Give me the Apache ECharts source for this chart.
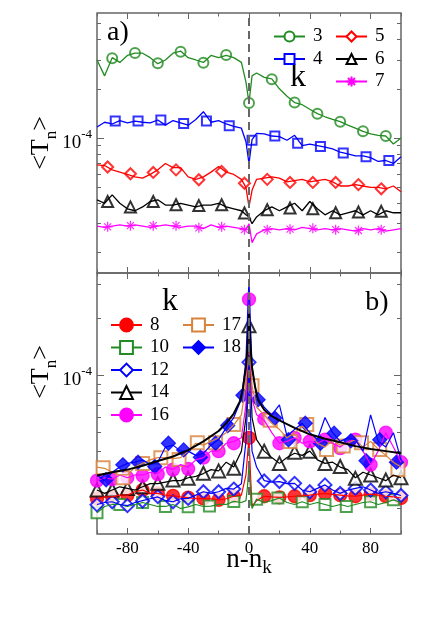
<!DOCTYPE html>
<html>
<head>
<meta charset="utf-8">
<script src="https://cdn.jsdelivr.net/npm/echarts@6/dist/echarts.min.js"></script>
<style>
html, body { margin: 0; padding: 0; background: #fff; }
#chart { width: 436px; height: 622px; }
</style>
</head>
<body>
<div id="chart"></div>
<script>
// values are in units of 1e-4
const UNIT = 1e-4;

// x positions of the line data
const xA = [-100,-95,-90,-85,-80,-75,-70,-65,-60,-55,-50,-45,-40,-35,-30,-25,-20,-15,-10,-5,
  -2,0,2,
  5,10,15,20,25,30,35,40,45,50,55,60,65,70,75,80,85,90,95,100];
const xB = [-100,-95,-90,-85,-80,-75,-70,-65,-60,-55,-50,-45,-40,-35,-30,-25,-20,-15,-10,-5,
  -2,-1,0,1,2,
  5,10,15,20,25,30,35,40,45,50,55,60,65,70,75,80,85,90,95,100];

// panel a), lines
const k3 = [3.0,2.4,3.1,2.9,3.2,3.3,3.3,3.1,2.85,3.0,3.3,3.4,3.1,3.0,2.9,3.2,3.1,3.2,3.1,2.9,
  2.2,1.64,2.4,
  2.5,2.35,2.3,2.0,1.8,1.65,1.6,1.5,1.41,1.35,1.3,1.26,1.2,1.15,1.10,1.06,1.04,1.03,0.92,1.0];
const k4 = [1.17,1.25,1.22,1.28,1.24,1.27,1.25,1.24,1.29,1.2,1.28,1.24,1.2,1.3,1.45,1.25,1.28,1.22,1.18,1.15,
  0.95,0.70,0.98,
  1.07,1.06,1.03,1.02,0.97,1.04,0.90,0.92,0.90,0.88,0.86,0.82,0.80,0.78,0.78,0.76,0.72,0.73,0.70,0.77];
const k5 = [0.687,0.68,0.64,0.62,0.60,0.58,0.57,0.60,0.64,0.70,0.66,0.66,0.58,0.56,0.58,0.62,0.67,0.62,0.60,0.56,
  0.50,0.38,0.48,
  0.56,0.57,0.58,0.57,0.54,0.55,0.56,0.54,0.55,0.56,0.54,0.51,0.51,0.52,0.51,0.50,0.50,0.49,0.51,0.47];
const k6 = [0.42,0.40,0.45,0.40,0.37,0.36,0.38,0.41,0.42,0.39,0.39,0.40,0.39,0.38,0.39,0.39,0.40,0.38,0.37,0.36,
  0.34,0.33,0.30,
  0.33,0.36,0.38,0.36,0.38,0.40,0.36,0.41,0.37,0.34,0.36,0.34,0.35,0.36,0.34,0.36,0.34,0.36,0.35,0.35];
const k7 = [0.29,0.285,0.29,0.295,0.29,0.295,0.29,0.285,0.29,0.295,0.29,0.285,0.29,0.29,0.28,0.295,0.285,0.29,0.285,0.28,
  0.275,0.30,0.23,
  0.26,0.275,0.28,0.275,0.28,0.275,0.285,0.28,0.275,0.28,0.275,0.28,0.275,0.27,0.28,0.275,0.28,0.27,0.275,0.28];

// panel a), symbols
const m3x = [-90,-75,-60,-45,-30,-15,0,15,30,45,60,75,90];
const m3y = [3.07,3.31,2.87,3.37,2.89,3.22,1.64,2.29,1.65,1.41,1.26,1.10,1.03];
const m4x = [-88,-73,-58,-43,-28,-13,2,17,32,47,62,77,92];
const m4y = [1.27,1.27,1.29,1.23,1.27,1.19,0.97,1.03,0.93,0.89,0.81,0.77,0.73];
const m567x = [-93,-78,-63,-48,-33,-18,-3,12,27,42,57,72,87];
const m5y = [0.666,0.606,0.617,0.64,0.557,0.626,0.53,0.56,0.536,0.536,0.536,0.52,0.49];
const m6y = [0.41,0.38,0.41,0.392,0.387,0.392,0.349,0.365,0.374,0.37,0.35,0.354,0.357];
const m7y = [0.287,0.292,0.292,0.292,0.283,0.287,0.276,0.276,0.278,0.281,0.276,0.273,0.276];

// panel b), lines
const k8 = [0.225,0.23,0.23,0.235,0.235,0.245,0.25,0.24,0.24,0.235,0.233,0.23,0.228,0.225,0.226,0.225,0.222,0.225,0.232,0.235,
  0.30,0.38,0.47,0.30,0.205,
  0.22,0.232,0.23,0.229,0.23,0.232,0.233,0.235,0.238,0.24,0.237,0.235,0.233,0.232,0.235,0.238,0.235,0.232,0.23,0.227];
const k10 = [0.19,0.205,0.21,0.21,0.205,0.21,0.215,0.21,0.205,0.205,0.21,0.20,0.204,0.21,0.205,0.206,0.21,0.21,0.218,0.215,
  0.22,0.26,0.34,0.25,0.20,
  0.224,0.215,0.22,0.227,0.215,0.21,0.217,0.21,0.215,0.21,0.205,0.21,0.205,0.21,0.215,0.217,0.21,0.215,0.222,0.215];
const k12 = [0.21,0.215,0.217,0.21,0.207,0.215,0.22,0.225,0.23,0.22,0.217,0.225,0.226,0.235,0.245,0.24,0.245,0.255,0.253,0.27,
  0.45,0.7,1.17,0.6,0.4,
  0.33,0.28,0.275,0.277,0.27,0.271,0.25,0.245,0.255,0.266,0.25,0.24,0.25,0.255,0.26,0.25,0.24,0.245,0.24,0.234];
const k14 = [0.25,0.24,0.25,0.26,0.255,0.25,0.26,0.27,0.27,0.275,0.28,0.28,0.29,0.295,0.305,0.32,0.315,0.35,0.33,0.40,
  0.6,1.0,1.82,1.0,0.6,
  0.46,0.40,0.37,0.345,0.37,0.39,0.38,0.40,0.36,0.345,0.35,0.33,0.32,0.29,0.31,0.30,0.29,0.28,0.30,0.29];
const k16 = [0.28,0.29,0.285,0.30,0.29,0.30,0.30,0.31,0.305,0.33,0.32,0.34,0.33,0.36,0.37,0.40,0.40,0.44,0.45,0.47,
  0.7,1.2,2.5,1.2,0.75,
  0.62,0.58,0.50,0.44,0.45,0.47,0.44,0.45,0.44,0.46,0.44,0.42,0.45,0.46,0.40,0.34,0.40,0.50,0.42,0.35];
const k17 = [0.33,0.325,0.31,0.30,0.30,0.33,0.345,0.36,0.37,0.37,0.365,0.37,0.40,0.44,0.43,0.45,0.47,0.50,0.55,0.62,
  0.9,1.3,2.2,1.2,0.88,
  0.68,0.62,0.56,0.52,0.47,0.50,0.54,0.50,0.44,0.42,0.46,0.43,0.44,0.46,0.42,0.45,0.41,0.38,0.35,0.33];
const k18 = [0.30,0.28,0.31,0.33,0.345,0.35,0.36,0.34,0.35,0.42,0.43,0.40,0.40,0.38,0.39,0.43,0.46,0.53,0.60,0.75,
  1.2,2.0,3.2,1.8,1.1,
  0.78,0.68,0.62,0.70,0.48,0.52,0.56,0.50,0.46,0.60,0.50,0.45,0.47,0.46,0.40,0.62,0.45,0.42,0.50,0.36];

// panel b), symbols
const m10x = [-100,-90,-80,-70,-60,-50,-40,-30,-20,-10,0,10,20,30,40,50,60,70,80,90,100];
const m8y = [0.225,0.23,0.235,0.25,0.24,0.233,0.228,0.226,0.222,0.232,0.47,0.232,0.229,0.232,0.235,0.24,0.235,0.232,0.238,0.232,0.227];
const m10xs = [-100,-85,-70,-55,-40,-26,-10,5,19,35,50,64,80,95];
const m10y = [0.19,0.21,0.215,0.205,0.204,0.206,0.218,0.224,0.227,0.217,0.21,0.205,0.217,0.222];
const m12y = [0.209,0.217,0.207,0.219,0.231,0.217,0.226,0.245,0.245,0.253,1.17,0.279,0.277,0.271,0.245,0.266,0.24,0.255,0.25,0.245,0.234];
const m14y = [0.25,0.25,0.255,0.26,0.271,0.282,0.288,0.306,0.315,0.325,1.82,0.40,0.345,0.395,0.40,0.345,0.332,0.288,0.30,0.282,0.29];
const m16y = [0.28,0.285,0.29,0.297,0.303,0.32,0.323,0.37,0.40,0.44,2.5,0.59,0.44,0.47,0.45,0.46,0.415,0.46,0.34,0.50,0.35];
const m17x = [-96,-83,-70,-58,-46,-34,-22,-10,2,14,27,38,51,62,74,86,98];
const m17y = [0.327,0.29,0.344,0.369,0.362,0.443,0.443,0.552,0.88,0.58,0.45,0.552,0.408,0.425,0.443,0.408,0.32];
const m18x = [-94,-83,-73,-62,-53,-43,-32,-22,-14,-4,6,17,26,37,47,56,67,77,86,97];
const m18y = [0.283,0.339,0.35,0.332,0.44,0.406,0.372,0.44,0.545,0.785,0.745,0.596,0.459,0.561,0.44,0.497,0.453,0.356,0.459,0.35];

// black fitted curve of panel b)
const xFit = [-100,-90,-80,-70,-60,-50,-40,-30,-20,-15,-10,-6,-4,-2,-1,0,1,2,4,6,10,15,20,30,40,50,60,70,80,90,100];
const yFit = [0.298,0.31,0.32,0.335,0.355,0.375,0.405,0.45,0.51,0.56,0.63,0.73,0.85,1.1,1.4,2.1,1.4,1.1,0.87,0.74,0.66,0.61,0.58,0.53,0.49,0.465,0.445,0.425,0.41,0.40,0.39];

// ticks
const xMajor = [-80,-40,0,40,80];
const xMinor = [-100,-60,-20,20,60,100];
const yMajor = [1e-4];
const yMinor = [2e-5,3e-5,4e-5,5e-5,6e-5,7e-5,8e-5,9e-5,2e-4,3e-4,4e-4,5e-4];
const yRangeA = [1.5e-5, 5.81e-4];
const yRangeB = [1.47e-5, 3.44e-4];

const FONT = '"Liberation Serif", "DejaVu Serif", serif';
const AXIS_COL = '#666';
const GREEN = '#228b22', BLUE = '#0000ff', RED = '#ff0000', MAGENTA = '#ff00ff', ORANGE = '#d9823b';
const STAR = 'path://M5 0L5 10M0 5L10 5M1.5 1.5L8.5 8.5M8.5 1.5L1.5 8.5';

const chart = echarts.init(document.getElementById('chart'));

function pts(xs, ys) {
  return xs.map((x, i) => [x, ys[i] * UNIT]);
}

function xAx(grid, pos, ticks, len, withLabels) {
  const ax = {
    type: 'value', gridIndex: grid, position: pos, min: -100, max: 100,
    axisLine: { show: false, onZero: false },
    splitLine: { show: false },
    axisTick: { show: true, inside: true, length: len, customValues: ticks, lineStyle: { color: AXIS_COL, width: 1 } },
    axisLabel: { show: false }
  };
  if (withLabels) {
    ax.axisLabel = { show: true, customValues: xMajor, margin: 6, color: '#000', fontFamily: FONT, fontSize: 17 };
  }
  return ax;
}

function yAx(grid, pos, range, ticks, len, withLabels) {
  const ax = {
    type: 'log', logBase: 10, gridIndex: grid, position: pos, min: range[0], max: range[1],
    axisLine: { show: false, onZero: false },
    splitLine: { show: false },
    axisTick: { show: true, inside: true, length: len, customValues: ticks, lineStyle: { color: AXIS_COL, width: 1 } },
    axisLabel: { show: false }
  };
  if (withLabels) {
    ax.axisLabel = {
      show: true, customValues: yMajor, margin: 5,
      formatter: () => '{b|10}{e|-4}',
      rich: {
        b: { fontFamily: FONT, fontSize: 19, lineHeight: 19, padding: [9, 0, 0, 0], color: '#000' },
        e: { fontFamily: FONT, fontSize: 13, lineHeight: 13, padding: [0, 0, 7, 0], color: '#000' }
      }
    };
  }
  return ax;
}

const xAxes = [];
const yAxes = [];
[0, 1].forEach(g => {
  xAxes.push(xAx(g, 'bottom', xMajor, 6, g === 1));
  xAxes.push(xAx(g, 'bottom', xMinor, 3.5, false));
  xAxes.push(xAx(g, 'top', xMajor, 6, false));
  xAxes.push(xAx(g, 'top', xMinor, 3.5, false));
  const r = g === 0 ? yRangeA : yRangeB;
  yAxes.push(yAx(g, 'left', r, yMajor, 7, true));
  yAxes.push(yAx(g, 'left', r, yMinor, 4, false));
  yAxes.push(yAx(g, 'right', r, yMajor, 7, false));
  yAxes.push(yAx(g, 'right', r, yMinor, 4, false));
});

const dashed = {
  silent: true, symbol: 'none', label: { show: false },
  lineStyle: { color: '#666', type: [8, 5], width: 2 },
  data: [{ xAxis: 0 }]
};

const series = [];
function addSet(name, g, xs, ys, mx, my, col, sym, size, lw) {
  const ai = g * 4;
  series.push({
    type: 'line', name: name, xAxisIndex: ai, yAxisIndex: ai, data: pts(xs, ys),
    showSymbol: false, symbol: sym, symbolSize: size,
    lineStyle: { color: col, width: lw },
    itemStyle: { color: col, borderColor: col, borderWidth: 1.3 },
    emphasis: { disabled: true }
  });
  series.push({
    type: 'scatter', name: name + ' symbols', xAxisIndex: ai, yAxisIndex: ai, data: pts(mx, my),
    symbol: sym, symbolSize: size, clip: false,
    itemStyle: { color: col, borderColor: col, borderWidth: 1.3 },
    emphasis: { disabled: true }
  });
}

addSet('3', 0, xA, k3, m3x, m3y, GREEN, 'emptyCircle', 10, 1.3);
addSet('4', 0, xA, k4, m4x, m4y, BLUE, 'emptyRect', 9, 1.3);
addSet('5', 0, xA, k5, m567x, m5y, RED, 'emptyDiamond', 11, 1.3);
addSet('6', 0, xA, k6, m567x, m6y, '#000', 'emptyTriangle', 11, 1.3);
addSet('7', 0, xA, k7, m567x, m7y, MAGENTA, STAR, 10, 1.3);
series[0].markLine = dashed;

addSet('8', 1, xB, k8, m10x, m8y, RED, 'circle', 13, 1.2);
addSet('10', 1, xB, k10, m10xs, m10y, GREEN, 'emptyRect', 11, 1.2);
addSet('12', 1, xB, k12, m10x, m12y, BLUE, 'emptyDiamond', 13, 1.2);
addSet('14', 1, xB, k14, m10x, m14y, '#000', 'emptyTriangle', 13, 1.2);
addSet('16', 1, xB, k16, m10x, m16y, MAGENTA, 'circle', 13, 1.2);
addSet('17', 1, xB, k17, m17x, m17y, ORANGE, 'emptyRect', 13, 1.2);
addSet('18', 1, xB, k18, m18x, m18y, BLUE, 'diamond', 14, 1.2);
series.push({
  type: 'line', name: 'fit', xAxisIndex: 4, yAxisIndex: 4, data: pts(xFit, yFit),
  showSymbol: false, smooth: false, lineStyle: { color: '#000', width: 2 },
  emphasis: { disabled: true }, markLine: dashed
});

function legendOf(names, left, top, ih) {
  return {
    data: names, orient: 'vertical', left: left, top: top, padding: 0,
    itemWidth: 31, itemHeight: ih, itemGap: 3.5, selectedMode: false,
    textStyle: { fontFamily: FONT, fontSize: 19, lineHeight: 19, color: '#000', padding: [0, 0, 0, 3] }
  };
}

const labelStyle = (txt, size) => ({ text: txt, fontFamily: FONT, fontSize: size, fill: '#000', align: 'center', verticalAlign: 'middle' });
const ytitle = (y) => ({
  type: 'text', x: 41.5, y: y, rotation: Math.PI / 2,
  style: {
    text: '{m|<T}{s|n}{m|>}', align: 'center', verticalAlign: 'middle',
    rich: {
      m: { fontFamily: FONT, fontSize: 26, lineHeight: 26, fill: '#000' },
      s: { fontFamily: FONT, fontSize: 17, lineHeight: 17, padding: [20, 0, 0, 0], fill: '#000' }
    }
  }
});

chart.setOption({
  animation: false,
  backgroundColor: '#fff',
  grid: [
    { left: 97, top: 13, width: 304, height: 260, show: true, borderColor: AXIS_COL, borderWidth: 1.5 },
    { left: 97, top: 273, width: 304, height: 261, show: true, borderColor: AXIS_COL, borderWidth: 1.5 }
  ],
  xAxis: xAxes,
  yAxis: yAxes,
  legend: [
    legendOf(['3', '4'], 273, 27, 12.5),
    legendOf(['5', '6', '7'], 335, 27, 12.5),
    legendOf(['8', '10', '12', '14', '16'], 110, 315.5, 16),
    legendOf(['17', '18'], 182, 315.5, 16)
  ],
  graphic: [
    { type: 'text', x: 118, y: 33, style: labelStyle('a)', 28) },
    { type: 'text', x: 377, y: 303, style: labelStyle('b)', 28) },
    { type: 'text', x: 298, y: 78, style: labelStyle('k', 32) },
    { type: 'text', x: 170, y: 302, style: labelStyle('k', 32) },
    ytitle(143),
    ytitle(372),
    {
      type: 'text', x: 249, y: 560,
      style: {
        text: '{m|n-n}{s|k}', align: 'center', verticalAlign: 'middle',
        rich: {
          m: { fontFamily: FONT, fontSize: 27, lineHeight: 27, fill: '#000' },
          s: { fontFamily: FONT, fontSize: 19, lineHeight: 19, padding: [17, 0, 0, 0], fill: '#000' }
        }
      }
    }
  ],
  series: series
});
</script>
</body>
</html>
